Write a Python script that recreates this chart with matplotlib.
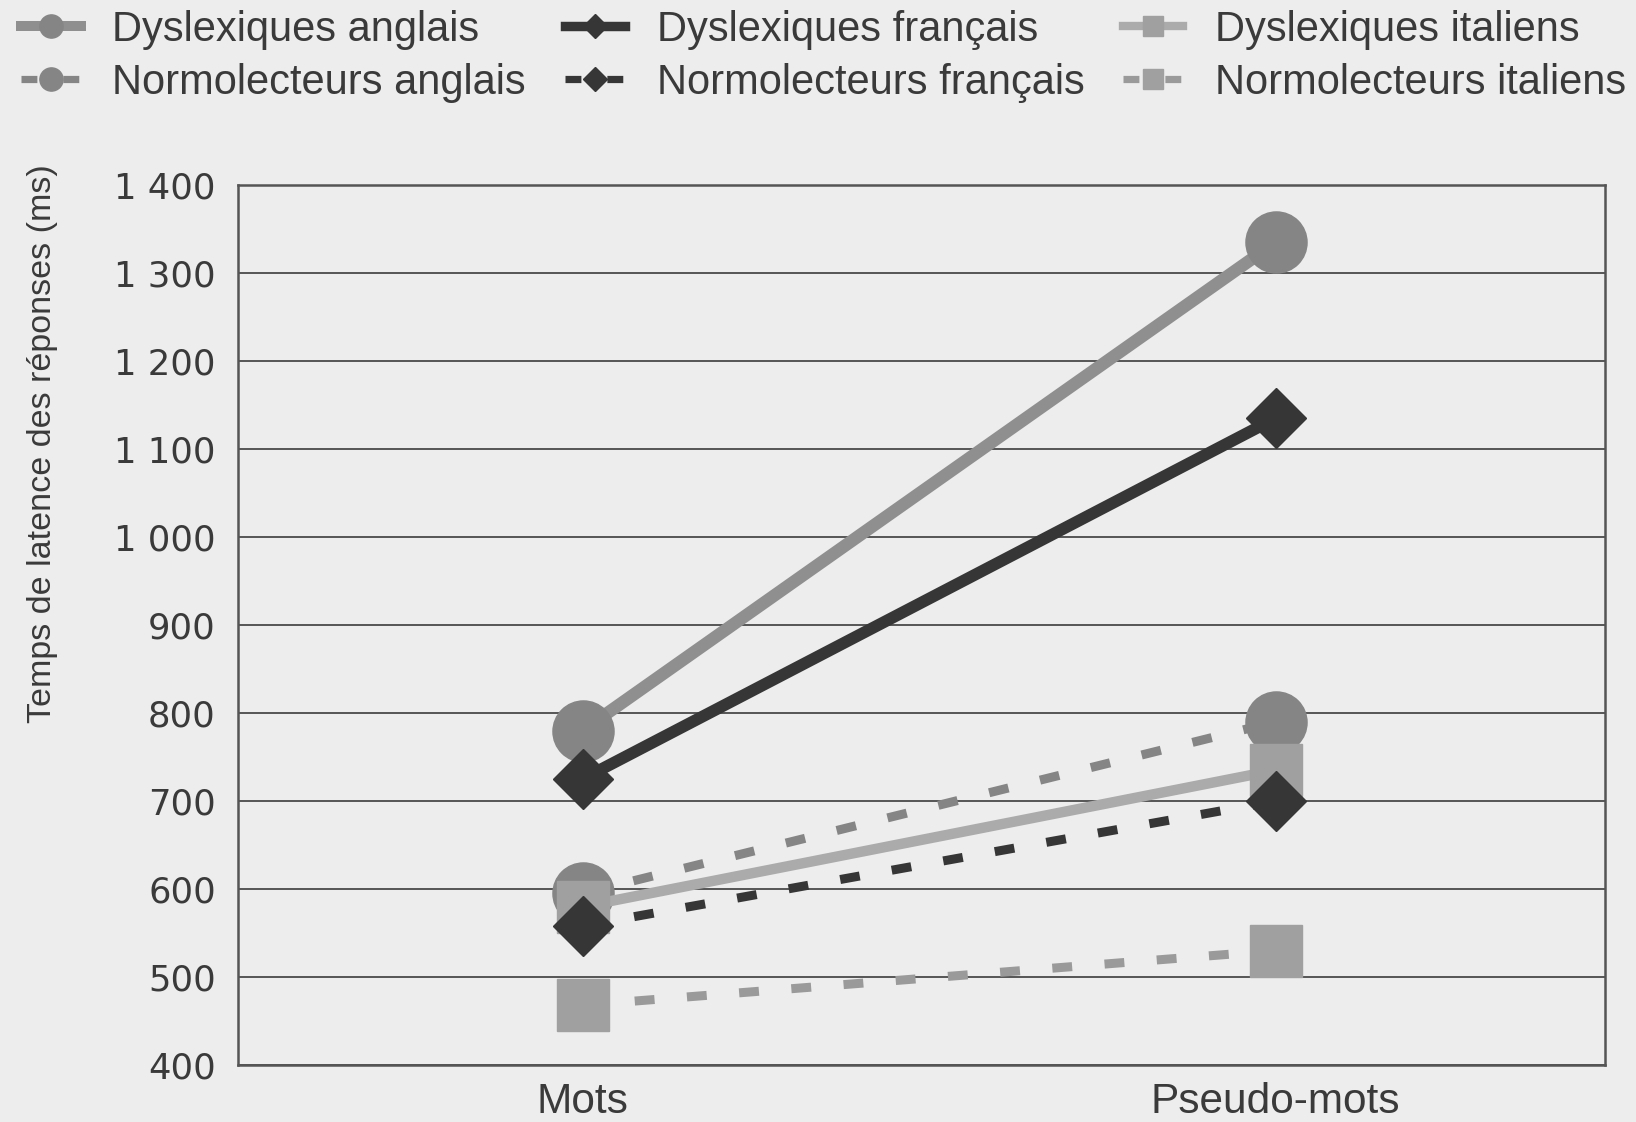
import numpy as np
import matplotlib
matplotlib.use("Agg")
import matplotlib.pyplot as plt
from matplotlib.lines import Line2D

# data
conditions = ["Mots", "Pseudo-mots"]
dys_anglais = [780, 1335]
dys_francais = [725, 1135]
dys_italiens = [580, 735]
normo_anglais = [595, 790]
normo_francais = [558, 700]
normo_italiens = [468, 530]

ytick_values = [400, 500, 600, 700, 800, 900, 1000, 1100, 1200, 1300, 1400]
ytick_labels = ["400", "500", "600", "700", "800", "900",
                "1 000", "1 100", "1 200", "1 300", "1 400"]

bg = "#ededee"
c_ang_line, c_ang_mk = "#8f8f8f", "#858585"
c_fr = "#363636"
c_it_line, c_it_mk = "#ababab", "#a0a0a0"
dash = (0, (2.2, 3.6))

fig = plt.figure(figsize=(16.36, 11.22), dpi=100, facecolor=bg)
ax = fig.add_axes([0.1455, 0.0508, 0.981 - 0.1455, 0.8351 - 0.0508])
ax.set_facecolor(bg)
x = np.arange(len(conditions))

# draw order: anglais, italiens, français (diamonds sit on top)
series = [
    ("Dyslexiques anglais", dys_anglais, c_ang_line, c_ang_mk, "o", 44, "-", 9),
    ("Normolecteurs anglais", normo_anglais, "#858585", c_ang_mk, "o", 44, dash, 6.5),
    ("Dyslexiques italiens", dys_italiens, c_it_line, c_it_mk, "s", 38, "-", 7.5),
    ("Normolecteurs italiens", normo_italiens, "#9a9a9a", c_it_mk, "s", 38, dash, 6.5),
    ("Dyslexiques français", dys_francais, c_fr, c_fr, "D", 31, "-", 8.5),
    ("Normolecteurs français", normo_francais, c_fr, c_fr, "D", 31, dash, 6.5),
]
handles = {}
for i, (name, vals, lc, mc, mk, ms, ls, lw) in enumerate(series):
    ax.plot(x, vals, color=lc, linestyle=ls, linewidth=lw, zorder=3 + i,
            solid_capstyle="butt")
    ax.plot(x, vals, linestyle="none", marker=mk, markersize=ms,
            markerfacecolor=mc, markeredgecolor=mc, zorder=3 + i)
    handles[name] = Line2D([], [], color=lc, linestyle=ls, linewidth=lw * 0.8,
                           marker=mk, markersize=ms * 0.38,
                           markerfacecolor=mc, markeredgecolor=mc)

ax.set_xlim(-0.497, 1.475)
ax.set_ylim(400, 1400)
ax.set_yticks(ytick_values)
ax.set_yticklabels(ytick_labels, fontsize=25.5, color="#3a3a3a",
                   family="DejaVu Sans")
ax.set_xticks(x)
ax.set_xticklabels(conditions, fontsize=30.5, color="#3a3a3a",
                   family="Liberation Sans")
ax.tick_params(axis="both", length=0)
ax.tick_params(axis="y", pad=16)
ax.tick_params(axis="x", pad=12)
ax.grid(axis="y", color="#555555", linewidth=1.4, zorder=1)
ax.set_axisbelow(True)
for sp in ax.spines.values():
    sp.set_color("#555555")
    sp.set_linewidth(1.8)

fig.text(0.026, 0.605, "Temps de latence des réponses (ms)", rotation=90,
         ha="center", va="center", fontsize=24.5, color="#3a3a3a",
         family="Liberation Sans")

order = ["Dyslexiques anglais", "Normolecteurs anglais",
         "Dyslexiques français", "Normolecteurs français",
         "Dyslexiques italiens", "Normolecteurs italiens"]
leg = fig.legend([handles[n] for n in order], order, loc="upper left",
                 bbox_to_anchor=(0.0, 1.01), ncol=3, frameon=False,
                 prop={"family": "Liberation Sans", "size": 30},
                 handlelength=1.45, handletextpad=0.75, columnspacing=0.93,
                 labelspacing=0.32, borderaxespad=0.1)
for t in leg.get_texts():
    t.set_color("#3a3a3a")

fig.savefig("out.png", dpi=100, facecolor=bg)
